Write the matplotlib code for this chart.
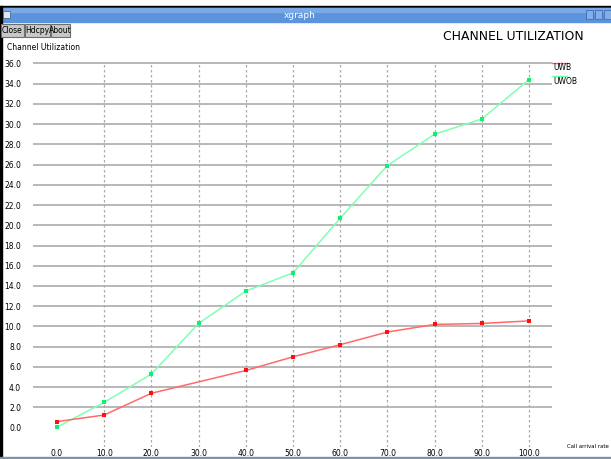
import numpy as np
import matplotlib.pyplot as plt
from matplotlib.patches import Rectangle

# call arrival rate vs channel utilization
rate = [0, 10, 20, 30, 40, 50, 60, 70, 80, 90, 100]
uwob = [0.05, 2.5, 5.3, 10.3, 13.5, 15.3, 20.7, 25.9, 29.0, 30.5, 34.4]
rate_uwb = [0, 10, 20, 40, 50, 60, 70, 80, 90, 100]
uwb = [0.6, 1.25, 3.4, 5.65, 7.0, 8.2, 9.45, 10.2, 10.3, 10.55]

x_ticks = [0, 10, 20, 30, 40, 50, 60, 70, 80, 90, 100]
y_ticks = list(range(0, 37, 2))

W, H = 611, 459
small = dict(family=['DejaVu Sans'], fontsize=5.5)

fig = plt.figure(figsize=(W / 100, H / 100), dpi=100)

# window chrome, drawn in pixel coordinates
bg = fig.add_axes([0, 0, 1, 1])
bg.set_xlim(0, W)
bg.set_ylim(H, 0)
bg.axis('off')
bg.add_patch(Rectangle((0, 6), W, 1.5, color='black'))
bg.add_patch(Rectangle((0, 7.5), W, 14.5, color='#5b93dd'))
bg.add_patch(Rectangle((0, 7.5), W, 4, color='#7aaae6'))
bg.add_patch(Rectangle((0, 6), 2, H, color='black'))
bg.add_patch(Rectangle((0, 457), W, 2, color='#7d93a8'))
bg.add_patch(Rectangle((3, 11), 7, 7, facecolor='#dde6f2', edgecolor='#4a6a95', lw=0.6))
for bx in [586, 595, 604]:
    bg.add_patch(Rectangle((bx, 10), 7, 9, facecolor='#86aee6', edgecolor='#3d6db5', lw=0.6))
bg.text(300, 15, 'xgraph', color='white', ha='center', va='center', family=['DejaVu Sans'], fontsize=6.5)

for label, x0, x1 in [('Close', 1, 24), ('Hdcpy', 25, 50), ('About', 51, 70)]:
    bg.add_patch(Rectangle((x0, 23.5), x1 - x0, 13.5, facecolor='#c8c8c8', edgecolor='#6e6e6e', lw=0.8))
    bg.text((x0 + x1) / 2, 30.5, label, ha='center', va='center', **small)

bg.text(584, 37, 'CHANNEL UTILIZATION', fontsize=8.9, ha='right', va='center', family=['DejaVu Sans'])
bg.text(7, 48, 'Channel Utilization', ha='left', va='center', **small)
bg.text(567, 446, 'Call arrival rate', ha='left', va='center', family=['DejaVu Sans'], fontsize=3.9)

# legend
bg.plot([552, 567], [62.5, 62.5], color='#ff6060', lw=1)
bg.text(553, 67, 'UWB', ha='left', va='center', **small)
bg.plot([552, 567], [76, 76], color='#70ffa8', lw=1)
bg.text(553, 81, 'UWOB', ha='left', va='center', **small)

# plot area
ax = fig.add_axes([33 / W, (H - 447) / H, 519 / W, 387 / H])
ax.set_xlim(-5.08, 104.87)
ax.set_ylim(-1.91, 36.33)
for s in ax.spines.values():
    s.set_visible(False)
ax.patch.set_alpha(0)

ax.hlines(y_ticks[1:], -5.08, 104.87, color='#b2b2b2', lw=1.3, zorder=1)
ax.vlines(x_ticks[1:], -1.91, 36.0, color='#aaaaaa', lw=0.9, linestyles=(0, (2, 2)), zorder=1)

ax.plot(rate, uwob, color='#80ffb4', lw=1.1, zorder=3)
ax.plot(rate, uwob, 's', color='#10f070', ms=2.8, mew=0, zorder=4)
ax.plot(rate_uwb, uwb, color='#ff6a6a', lw=1.1, zorder=3)
ax.plot(rate_uwb, uwb, 's', color='#ff1010', ms=2.8, mew=0, zorder=4)

ax.set_yticks(y_ticks)
ax.set_yticklabels([f'{v:.1f}' for v in y_ticks], **small)
ax.set_xticks(x_ticks)
ax.set_xticklabels([f'{v:.1f}' for v in x_ticks], **small)
ax.tick_params(axis='y', length=0, pad=8.5)
ax.tick_params(axis='x', length=0, pad=1.5)

fig.savefig('out.png', dpi=100)
